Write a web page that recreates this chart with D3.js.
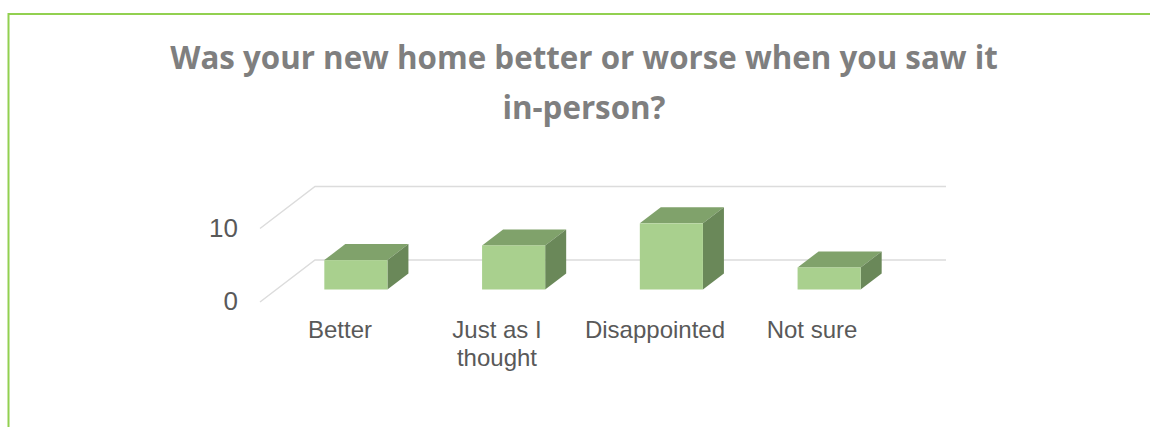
<!DOCTYPE html>
<html><head><meta charset="utf-8">
<script src="https://cdn.jsdelivr.net/npm/d3@7"></script>
<style>html,body{margin:0;padding:0;background:#fff;overflow:hidden}svg{display:block}</style>
</head><body><svg id="c" width="1150" height="427"></svg>
<script>
const categories = ["Better", "Just as I thought", "Disappointed", "Not sure"];
const categoryLines = [["Better"], ["Just as I", "thought"], ["Disappointed"], ["Not sure"]];
const values = [4, 6, 9, 3];
const yTicks = [0, 10];
const titleLines = ["Was your new home better or worse when you saw it", "in-person?"];

const svg = d3.select("#c");
const border = "#92d050";
svg.append("path").attr("d", d3.line()([[8.5, 427], [8.5, 14], [1150, 14]]))
  .attr("fill", "none").attr("stroke", border).attr("stroke-width", 2);

svg.append("g").selectAll("text").data(titleLines).join("text")
  .attr("x", 584).attr("y", (d, i) => 69 + i * 50)
  .attr("text-anchor", "middle")
  .attr("font-family", "'Open Sans'").attr("font-weight", 700).attr("font-size", 31.3)
  .attr("fill", "#7f7f7f").text(d => d);

// floor of the 3D plot
const floorFront = 302, gridFrontX = 260, gridBackX = 315, gridDY = -42, gridRight = 946;
const y = d3.scaleLinear().domain([0, 10]).range([0, 73.5]);
const x = d3.scaleBand().domain(categories).range([277, 908]).paddingInner(0.6).paddingOuter(0.3);
const barBase = 289.5, depthX = 21, depthY = -16;

const grid = svg.append("g").attr("fill", "none").attr("stroke", "#dcdcdc").attr("stroke-width", 1.5);
yTicks.forEach(t => {
  const yf = floorFront - y(t);
  grid.append("path").attr("d", d3.line()([[gridFrontX, yf], [gridBackX, yf + gridDY], [gridRight, yf + gridDY]]));
});

svg.append("g").selectAll("text").data(yTicks).join("text")
  .attr("x", 238).attr("y", t => floorFront - y(t) + 8)
  .attr("text-anchor", "end")
  .attr("font-family", "'Liberation Sans'").attr("font-size", 26)
  .attr("fill", "#595959").text(t => t);

const bars = svg.append("g").selectAll("g").data(categories).join("g");
const line = d3.line();
bars.append("path").attr("fill", "#80a26b").attr("d", (c, i) => {
  const l = x(c), r = l + x.bandwidth(), t = barBase - y(values[i]);
  return line([[l, t], [r, t], [r + depthX, t + depthY], [l + depthX, t + depthY]]) + "Z";
});
bars.append("path").attr("fill", "#6a8859").attr("d", (c, i) => {
  const r = x(c) + x.bandwidth(), t = barBase - y(values[i]);
  return line([[r, t], [r + depthX, t + depthY], [r + depthX, barBase + depthY], [r, barBase]]) + "Z";
});
bars.append("rect").attr("fill", "#a9d08e")
  .attr("x", c => x(c)).attr("width", x.bandwidth())
  .attr("y", (c, i) => barBase - y(values[i])).attr("height", (c, i) => y(values[i]));

const labelCx = [340, 497, 655, 812];
const labels = svg.append("g").selectAll("text").data(categoryLines).join("text")
  .attr("text-anchor", "middle")
  .attr("font-family", "'Liberation Sans'").attr("font-size", 24)
  .attr("fill", "#595959");
labels.selectAll("tspan").data((d, i) => d.map(s => ({s, i}))).join("tspan")
  .attr("x", d => labelCx[d.i]).attr("y", (d, j) => 338 + j * 28).text(d => d.s);
</script></body></html>
